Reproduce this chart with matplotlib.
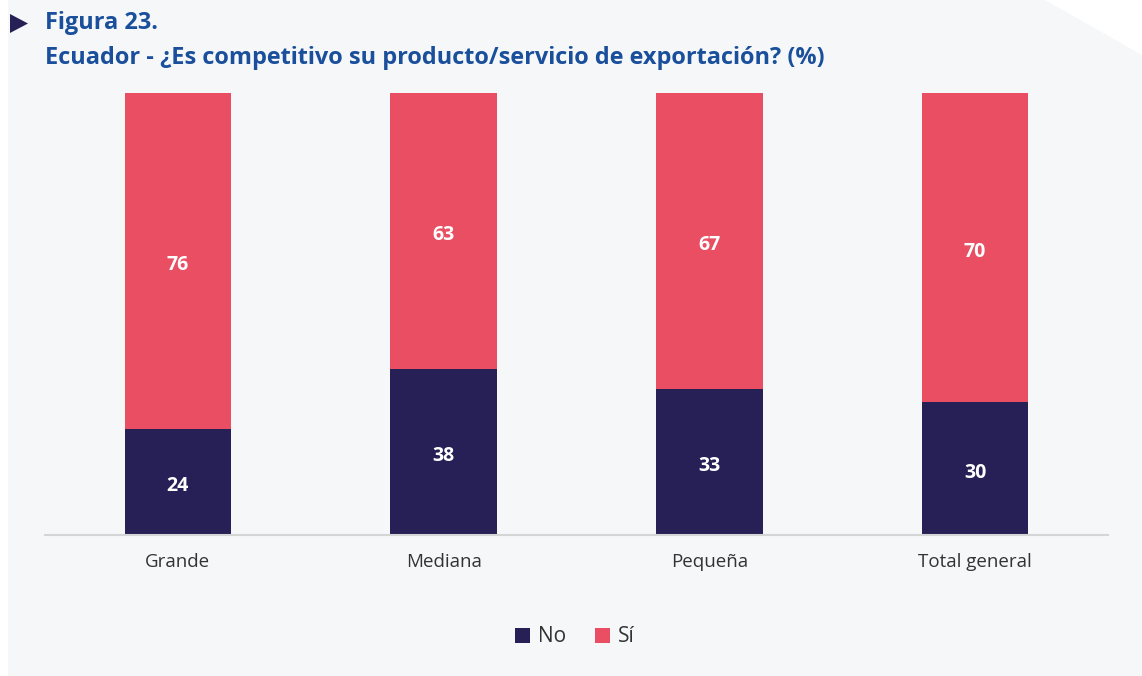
import matplotlib.pyplot as plt
from matplotlib.patches import Polygon, Rectangle

categorias = ["Grande", "Mediana", "Pequeña", "Total general"]
no_vals = [24, 38, 33, 30]
si_vals = [76, 63, 67, 70]

color_no = "#262057"
color_si = "#e94e62"
color_titulo = "#1a4f9c"
fondo = "#f6f7f9"

plt.rcParams["font.family"] = ["Open Sans", "DejaVu Sans"]

fig = plt.figure(figsize=(11.42, 6.76), dpi=100)
fig.patch.set_facecolor("white")

# panel de fondo con esquina recortada
fig.patches.append(Rectangle((8 / 1142, 0), 1, 1, transform=fig.transFigure,
                             facecolor=fondo, edgecolor="none", zorder=-2))
fig.patches.append(Polygon([(1045 / 1142, 1), (1, 1), (1, 1 - 55 / 676)],
                           closed=True, transform=fig.transFigure,
                           facecolor="white", edgecolor="none", zorder=-1))

ax = fig.add_axes([45 / 1142, (676 - 535) / 676, (1108 - 45) / 1142, 442 / 676])
ax.set_facecolor("none")

# normalizar a 100%
totales = [a + b for a, b in zip(no_vals, si_vals)]
no_pct = [a / t for a, t in zip(no_vals, totales)]
si_pct = [b / t for b, t in zip(si_vals, totales)]

x = range(len(categorias))
b1 = ax.bar(x, no_pct, width=0.4, color=color_no, label="No", zorder=2)
b2 = ax.bar(x, si_pct, width=0.4, bottom=no_pct, color=color_si, label="Sí", zorder=2)

for i in x:
    ax.annotate(str(no_vals[i]), (i, no_pct[i] / 2), xytext=(0, -3),
                textcoords="offset points", ha="center", va="center",
                color="white", fontsize=14, fontweight="bold", zorder=3)
    ax.annotate(str(si_vals[i]), (i, no_pct[i] + si_pct[i] / 2), xytext=(0, -3),
                textcoords="offset points", ha="center", va="center",
                color="white", fontsize=14, fontweight="bold", zorder=3)

ax.set_xlim(-0.5, 3.5)
ax.set_ylim(0, 1)
ax.set_xticks(list(x))
ax.set_xticklabels(categorias, fontsize=13.5, color="#333333")
ax.tick_params(axis="x", length=0, pad=13)
ax.set_yticks([])
for s in ["top", "right", "left"]:
    ax.spines[s].set_visible(False)
ax.spines["bottom"].set_color("#d5d5d5")
ax.spines["bottom"].set_linewidth(1.5)

fig.legend(handles=[b1, b2], labels=["No", "Sí"], loc="center",
           bbox_to_anchor=(575 / 1142, 1 - 637 / 676), ncol=2, frameon=False,
           fontsize=15, handlelength=0.7, handleheight=0.7, handletextpad=0.4,
           columnspacing=1.4, labelcolor="#333333")

# titulo
fig.patches.append(Polygon([(10 / 1142, 1 - 14 / 676), (10 / 1142, 1 - 33 / 676),
                            (28 / 1142, 1 - 23.5 / 676)], closed=True,
                           transform=fig.transFigure, facecolor=color_no,
                           edgecolor="none", zorder=3))
fig.text(45 / 1142, 1 - 23 / 676, "Figura 23.", fontsize=16.9, fontweight="bold",
         color=color_titulo, va="center", ha="left")
fig.text(45 / 1142, 1 - 58 / 676,
         "Ecuador - ¿Es competitivo su producto/servicio de exportación? (%)",
         fontsize=16.9, fontweight="bold", color=color_titulo, va="center", ha="left")

fig.savefig("out.png", dpi=100, facecolor=fig.get_facecolor())
